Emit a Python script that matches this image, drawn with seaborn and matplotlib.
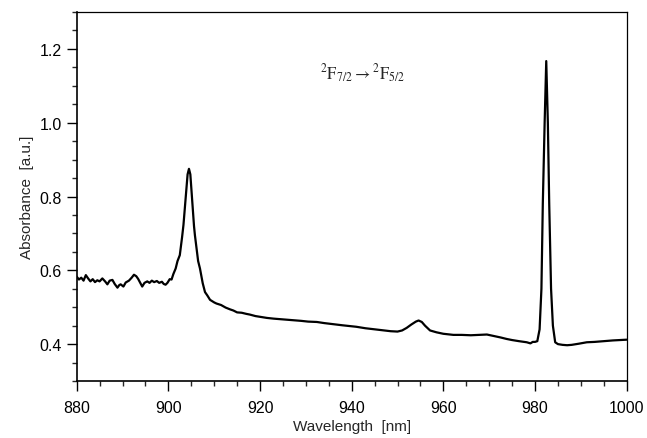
import matplotlib
matplotlib.use("Agg")
import matplotlib.pyplot as plt
import numpy as np
import pandas as pd
import seaborn as sns
from matplotlib.ticker import MultipleLocator

# values
wavelength = [
    880.0, 880.5, 881.0, 881.5, 882.0, 882.5, 883.0, 883.5, 884.0, 884.5,
    885.0, 885.6, 886.2, 886.7, 887.2, 887.8, 888.3, 888.9, 889.3, 889.6,
    890.2, 890.7, 891.4, 892.0, 892.5, 893.0, 893.4, 893.9, 894.3, 894.8,
    895.4, 895.9, 896.4, 896.9, 897.5, 898.0, 898.6, 899.0, 899.4, 899.8,
    900.3, 900.7, 901.1, 901.6, 902.0, 902.5, 903.0, 903.3, 903.8, 904.2,
    904.5, 904.8, 905.2, 905.6, 905.8, 906.5, 906.9, 907.5, 908.0, 908.5,
    909.1, 910.0, 910.5, 911.5, 912.5, 913.5, 914.2, 915.0, 916.0, 917.0,
    917.8, 919.0, 920.0, 921.5, 923.0, 925.1, 927.0, 929.0, 930.5, 932.4,
    934.0, 936.0, 938.0, 939.6, 941.0, 943.0, 945.0, 946.9, 948.5, 950.0,
    951.0, 952.0, 953.0, 954.0, 954.6, 955.3, 956.0, 957.1, 958.5, 960.0,
    962.2, 964.0, 966.0, 968.0, 969.5, 971.0, 972.5, 973.8, 975.0, 976.5,
    978.2, 979.0, 979.5, 980.0, 980.5, 981.0, 981.4, 981.7, 982.1, 982.45,
    982.8, 983.1, 983.5, 983.9, 984.4, 985.0, 986.0, 987.0, 988.0, 989.5,
    991.3, 993.0, 995.0, 997.0, 998.5, 1000.0,
]
absorbance = [
    0.583, 0.575, 0.580, 0.572, 0.587, 0.578, 0.570, 0.576, 0.568, 0.573,
    0.570, 0.578, 0.570, 0.562, 0.572, 0.574, 0.563, 0.553, 0.560, 0.562,
    0.556, 0.567, 0.572, 0.580, 0.588, 0.584, 0.577, 0.565, 0.556, 0.566,
    0.570, 0.566, 0.572, 0.568, 0.571, 0.566, 0.569, 0.563, 0.561, 0.566,
    0.576, 0.575, 0.590, 0.605, 0.625, 0.641, 0.690, 0.723, 0.800, 0.860,
    0.875, 0.860, 0.790, 0.720, 0.695, 0.625, 0.605, 0.565, 0.541, 0.532,
    0.520, 0.513, 0.510, 0.506, 0.499, 0.494, 0.491, 0.486, 0.485, 0.482,
    0.480, 0.476, 0.474, 0.471, 0.469, 0.467, 0.465, 0.463, 0.461, 0.460,
    0.457, 0.454, 0.451, 0.449, 0.447, 0.443, 0.440, 0.437, 0.435, 0.434,
    0.437, 0.444, 0.453, 0.461, 0.464, 0.460, 0.450, 0.437, 0.432, 0.428,
    0.425, 0.425, 0.424, 0.425, 0.426, 0.422, 0.418, 0.414, 0.411, 0.408,
    0.405, 0.402, 0.406, 0.406, 0.408, 0.440, 0.550, 0.780, 1.000, 1.167,
    1.000, 0.780, 0.550, 0.450, 0.405, 0.400, 0.398, 0.397, 0.398, 0.401,
    0.405, 0.406, 0.408, 0.410, 0.411, 0.412,
]

df = pd.DataFrame({"Wavelength": wavelength, "Absorbance": absorbance})

sns.set_theme(style="ticks")
plt.rcParams["font.family"] = ["Liberation Sans", "DejaVu Sans"]
plt.rcParams["mathtext.fontset"] = "stix"

fig = plt.figure(figsize=(6.47, 4.39), dpi=100)
ax = fig.add_axes([0.1185, 0.1298, 0.8501, 0.8406])

sns.lineplot(data=df, x="Wavelength", y="Absorbance", color="black",
             linewidth=1.6, ax=ax, sort=False)

ax.set_xlim(880, 1000)
ax.set_ylim(0.3, 1.3)
ax.xaxis.set_major_locator(MultipleLocator(20))
ax.xaxis.set_minor_locator(MultipleLocator(5))
ax.yaxis.set_major_locator(MultipleLocator(0.2))
ax.yaxis.set_minor_locator(MultipleLocator(0.05))
ax.yaxis.set_major_formatter(matplotlib.ticker.FormatStrFormatter("%.1f"))

ax.tick_params(which="major", length=7.5, width=1.0, labelsize=11.5, colors="black")
ax.tick_params(which="minor", length=3.8, width=1.0)
ax.tick_params(axis="x", pad=6)
ax.tick_params(axis="y", pad=3)
for side in ["top", "right"]:
    ax.spines[side].set_visible(True)
    ax.spines[side].set_linewidth(0.9)
for side in ["left", "bottom"]:
    ax.spines[side].set_linewidth(1.2)
for s in ax.spines.values():
    s.set_color("black")

ax.set_xlabel("Wavelength  [nm]", fontsize=11, labelpad=3)
ax.set_ylabel("Absorbance  [a.u.]", fontsize=11, labelpad=4)

ax.text(942.3, 1.135, r"$^{2}\mathrm{F}_{7/2} \rightarrow {}^{2}\mathrm{F}_{5/2}$",
        ha="center", va="center", fontsize=12)

fig.savefig("out.png", dpi=100)
